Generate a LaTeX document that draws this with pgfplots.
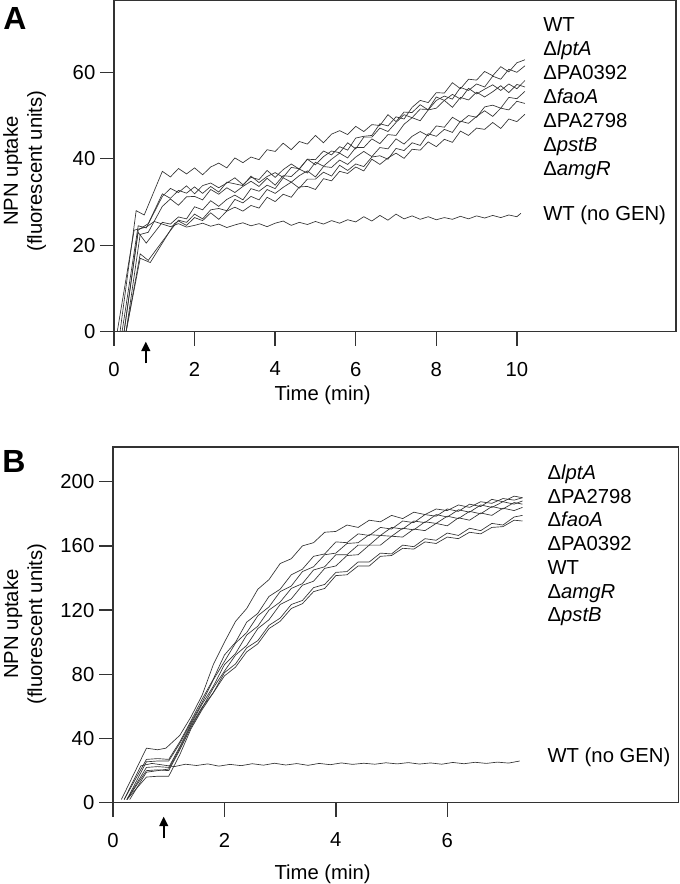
\documentclass[border=0pt]{standalone}
\usepackage{fontspec}
\setmainfont{Liberation Sans}
\usepackage{pgfplots}
\pgfplotsset{compat=1.18}
\usetikzlibrary{arrows.meta}
\definecolor{ln}{HTML}{333333}
\tikzset{curve/.style={line width=0.5pt, color=ln, mark=none}}
\newcommand\lab{\fontsize{15.2}{18}\selectfont}
\pgfplotsset{
 mystyle/.style={
  scale only axis, clip=false,
  axis line style={line width=1pt, color=ln},
  tick style={line width=1pt, color=ln},
  tick align=outside, major tick length=10.5pt,
  tick pos=left,
  ticklabel style={font=\lab, text=black},
  xticklabel style={yshift=-8.6pt},
  /pgf/number format/assume math mode=true,
 }
}
\begin{document}
\begin{tikzpicture}
\path[use as bounding box] (0,0) rectangle (510pt,-663pt);
% ---------------- Panel A ----------------
\begin{axis}[mystyle, at={(85.5pt,-0.4pt)}, anchor=north west,
  width=421.5pt, height=248.4pt,
  xmin=0, xmax=13.95, ymin=0, ymax=76.6,
  xtick={0,2,4,6,8,10}, ytick={0,20,40,60}]
\addplot[curve] coordinates {(0.15,0)(0.55,28)(0.75,27)
(1.2,37.1)(1.4,35.8)(1.6,37.75)(1.8,36.5)(2.0,37.9)(2.2,36.3)(2.4,38.1)(2.6,39.0)(2.8,37.9)(3.0,40.2)
(3.2,39.1)(3.4,40.4)(3.6,39.8)(3.8,42.1)(4.0,41.7)(4.2,43.6)(4.4,42.1)(4.6,44.0)(4.8,43.4)(5.0,45.4)
(5.2,43.7)(5.4,45.7)(5.6,46.5)(5.8,45.6)(6.0,47.5)(6.2,46.3)(6.4,47.9)(6.6,47.7)(6.8,50.2)(7.0,48.6)
(7.2,50.8)(7.4,50.7)(7.6,52.5)(7.8,51.3)(8.0,53.5)(8.2,54.5)(8.4,53.8)(8.6,56.5)(8.8,55.8)(9.0,57.3)
(9.2,56.6)(9.4,59.1)(9.6,58.4)(9.8,60.7)(10.0,60.0)(10.2,61.5)};
\addplot[curve] coordinates {(0.2,0)(0.6,24.5)(0.8,24)
(1.2,31.3)(1.4,33.15)(1.6,32.2)(1.8,33.75)(2.0,31.9)(2.2,33.8)(2.4,34.4)(2.6,33.3)(2.8,34.4)(3.0,35.6)
(3.2,34.0)(3.4,35.7)(3.6,35.2)(3.8,37.3)(4.0,35.7)(4.2,37.5)(4.4,38.8)(4.6,37.6)(4.8,39.9)(5.0,39.8)
(5.2,41.8)(5.4,40.9)(5.6,42.8)(5.8,42.0)(6.0,44.8)(6.2,45.2)(6.4,45.4)(6.6,48.1)(6.8,47.6)(7.0,49.7)
(7.2,49.2)(7.4,51.9)(7.6,53.5)(7.8,53.0)(8.0,55.3)(8.2,55.2)(8.4,57.6)(8.6,56.2)(8.8,58.4)(9.0,58.2)
(9.2,60.2)(9.4,59.2)(9.6,61.3)(9.8,60.1)(10.0,62.2)(10.2,62.9)};
\addplot[curve] coordinates {(0.25,0)(0.6,23.5)(0.85,25)
(1.2,31.9)(1.4,30.85)(1.6,32.7)(1.8,32.05)(2.0,33.5)(2.2,32.0)(2.4,33.6)(2.6,32.3)(2.8,34.6)(3.0,34.2)
(3.2,33.8)(3.4,36.0)(3.6,34.5)(3.8,35.9)(4.0,36.8)(4.2,35.7)(4.4,38.0)(4.6,37.7)(4.8,39.9)(5.0,38.6)
(5.2,40.5)(5.4,41.8)(5.6,41.4)(5.8,43.7)(6.0,42.3)(6.2,45.0)(6.4,45.0)(6.6,47.1)(6.8,46.3)(7.0,48.4)
(7.2,50.2)(7.4,49.5)(7.6,51.5)(7.8,51.4)(8.0,54.3)(8.2,53.5)(8.4,54.9)(8.6,53.8)(8.8,56.3)(9.0,55.0)
(9.2,56.1)(9.4,57.1)(9.6,55.8)(9.8,57.3)(10.0,56.2)(10.2,58.1)};
\addplot[curve] coordinates {(0.3,0)(0.65,22.5)(0.85,23)
(1.2,29.0)(1.4,30.7)(1.6,29.25)(1.8,31.2)(2.0,31.3)(2.2,30.5)(2.4,32.9)(2.6,31.8)(2.8,33.3)(3.0,32.2)
(3.2,33.6)(3.4,34.8)(3.6,33.6)(3.8,35.5)(4.0,33.9)(4.2,36.1)(4.4,35.9)(4.6,37.6)(4.8,36.7)(5.0,39.2)
(5.2,38.3)(5.4,39.9)(5.6,41.3)(5.8,40.2)(6.0,42.6)(6.2,42.6)(6.4,44.6)(6.6,43.5)(6.8,45.6)(7.0,45.4)
(7.2,48.0)(7.4,49.5)(7.6,48.8)(7.8,51.3)(8.0,51.7)(8.2,53.5)(8.4,51.9)(8.6,54.2)(8.8,53.6)(9.0,55.4)
(9.2,54.3)(9.4,55.5)(9.6,56.9)(9.8,55.3)(10.0,57.2)(10.2,56.6)};
\addplot[curve] coordinates {(0.25,0)(0.6,23)(0.8,20.5)
(1.2,25.3)(1.4,24.9)(1.6,26.55)(1.8,26.1)(2.0,28.9)(2.2,28.2)(2.4,30.3)(2.6,29.0)(2.8,30.6)(3.0,31.6)
(3.2,30.5)(3.4,33.1)(3.6,32.5)(3.8,33.9)(4.0,33.1)(4.2,35.6)(4.4,34.6)(4.6,36.1)(4.8,37.2)(5.0,35.8)
(5.2,38.2)(5.4,38.0)(5.6,39.7)(5.8,38.7)(6.0,40.4)(6.2,41.7)(6.4,40.5)(6.6,42.6)(6.8,42.3)(7.0,44.6)
(7.2,43.4)(7.4,45.2)(7.6,46.3)(7.8,45.3)(8.0,47.6)(8.2,47.3)(8.4,49.6)(8.6,48.5)(8.8,50.0)(9.0,49.6)
(9.2,52.0)(9.4,52.4)(9.6,51.7)(9.8,54.2)(10.0,53.9)(10.2,55.6)};
\addplot[curve] coordinates {(0.3,0)(0.65,18)(0.85,16.5)
(1.4,23.4)(1.6,25.8)(1.8,25.3)(2.0,27.2)(2.2,26.1)(2.4,28.2)(2.6,28.5)(2.8,28.0)(3.0,30.6)
(3.2,29.8)(3.4,31.3)(3.6,30.5)(3.8,32.9)(4.0,32.0)(4.2,33.4)(4.4,34.6)(4.6,33.2)(4.8,35.3)(5.0,35.3)
(5.2,36.9)(5.4,36.0)(5.6,38.5)(5.8,37.3)(6.0,38.8)(6.2,38.2)(6.4,40.4)(6.6,40.7)(6.8,39.9)(7.0,42.4)
(7.2,41.9)(7.4,43.7)(7.6,43.1)(7.8,45.8)(8.0,45.2)(8.2,46.8)(8.4,46.1)(8.6,48.7)(8.8,48.2)(9.0,49.8)
(9.2,51.1)(9.4,49.8)(9.6,51.7)(9.8,51.3)(10.0,53.3)(10.2,52.8)};
\addplot[curve] coordinates {(0.3,0)(0.65,17)(0.9,16)(1.5,25)
(1.6,25.6)(1.8,24.6)(2.0,26.4)(2.2,25.7)(2.4,27.5)(2.6,26.0)(2.8,27.9)(3.0,28.8)
(3.2,27.9)(3.4,29.2)(3.6,28.6)(3.8,31.1)(4.0,30.1)(4.2,31.8)(4.4,31.1)(4.6,33.5)(4.8,33.6)(5.0,32.9)
(5.2,35.4)(5.4,34.9)(5.6,37.1)(5.8,36.6)(6.0,38.1)(6.2,37.2)(6.4,39.9)(6.6,38.7)(6.8,40.2)(7.0,41.3)
(7.2,40.1)(7.4,42.2)(7.6,42.0)(7.8,43.9)(8.0,42.8)(8.2,44.5)(8.4,43.8)(8.6,46.4)(8.8,45.4)(9.0,47.1)
(9.2,46.8)(9.4,48.4)(9.6,47.0)(9.8,49.2)(10.0,48.6)(10.2,50.3)};
\addplot[curve] coordinates {(0.08,0)(0.5,23.5)(0.8,24.2)(1.0,25.5)(1.2,24.9)
(1.4,24.3)(1.6,25.0)(1.8,24.2)(2.0,24.6)(2.2,25.1)(2.4,24.4)(2.6,24.9)(2.8,24.1)(3.0,24.7)
(3.2,25.2)(3.4,24.5)(3.6,25.0)(3.8,24.3)(4.0,25.1)(4.2,25.6)(4.4,24.6)(4.6,25.3)(4.8,24.8)(5.0,25.5)
(5.2,24.9)(5.4,25.7)(5.6,25.1)(5.8,25.9)(6.0,25.4)(6.2,26.6)(6.4,25.6)(6.6,26.9)(6.8,25.8)(7.0,27.2)
(7.2,26.1)(7.4,26.8)(7.6,26.0)(7.8,26.6)(8.0,25.9)(8.2,26.4)(8.4,26.0)(8.6,26.7)(8.8,26.1)(9.0,26.8)
(9.2,26.3)(9.4,26.9)(9.6,26.4)(9.8,27.0)(10.0,26.6)(10.1,27.4)};
\draw[line width=1.3pt, -{Triangle[width=6.5pt,length=7pt]}] (axis cs:0.79,-7.3) -- (axis cs:0.79,-2.3);
\end{axis}
% ---------------- Panel B ----------------
\begin{axis}[mystyle, at={(84.75pt,-335.25pt)}, anchor=north west,
  width=424.1pt, height=266.8pt,
  xmin=0, xmax=10.15, ymin=0, ymax=221.6,
  xtick={0,2,4,6}, ytick={0,40,80,120,160,200}]
\addplot[curve] coordinates {(0.15,2)(0.6,34)(0.8,33)(0.95,34)(1.2,42)(1.4,53.5)(1.6,67)(1.8,86)
(2.0,100)(2.2,113)(2.4,121)(2.6,133)(2.8,139)(3.0,149)(3.2,152)(3.4,160)(3.6,162)(3.8,168.5)(4.0,169)
(4.2,173)(4.4,171.5)(4.6,176)(4.8,175)(5.0,179)(5.2,177)(5.4,181)(5.6,179.5)(5.8,183)(6.0,182)
(6.2,185.5)(6.4,184)(6.6,187.5)(6.8,186.5)(7.0,189.5)(7.2,188.5)(7.35,190)};
\addplot[curve] coordinates {(0.2,2)(0.6,27)(0.8,27.5)(1.0,27)(1.2,38)(1.4,51)(1.6,64.5)(1.8,77)
(2.0,92)(2.2,100)(2.4,112.5)(2.6,118)(2.8,128.5)(3.0,133)(3.2,142)(3.4,145.5)(3.6,153.5)(3.8,155)(4.0,162.5)
(4.2,162)(4.4,167.5)(4.6,166.5)(4.8,171.5)(5.0,170.5)(5.2,175.5)(5.4,174.5)(5.6,179.5)(5.8,178.5)(6.0,183)
(6.2,181.5)(6.4,186)(6.6,184.5)(6.8,189)(7.0,187.5)(7.2,191)(7.35,190)};
\addplot[curve] coordinates {(0.25,2)(0.6,25.5)(0.8,26)(1.0,26)(1.2,37)(1.4,50)(1.6,62.5)(1.8,76.5)
(2.0,88)(2.2,99.5)(2.4,106)(2.6,116.5)(2.8,122)(3.0,131.5)(3.2,135)(3.4,144)(3.6,147)(3.8,154.5)(4.0,155.5)
(4.2,161.5)(4.4,162)(4.6,167)(4.8,166.5)(5.0,171.5)(5.2,170.5)(5.4,175.5)(5.6,174.5)(5.8,179.5)(6.0,178)
(6.2,182.5)(6.4,181)(6.6,185.5)(6.8,184)(7.0,187.5)(7.2,186)(7.35,188)};
\addplot[curve] coordinates {(0.25,2)(0.6,22)(0.8,22.5)(1.0,22)(1.2,35)(1.4,49)(1.6,61.5)(1.8,72.5)
(2.0,86)(2.2,93)(2.4,104.5)(2.6,110)(2.8,120)(3.0,125)(3.2,133.5)(3.4,136.5)(3.6,145)(3.8,147)(4.0,154.5)
(4.2,154.5)(4.4,160.5)(4.6,160.5)(4.8,166.5)(5.0,166)(5.2,171)(5.4,170)(5.6,175)(5.8,174)(6.0,178.5)
(6.2,177)(6.4,181.5)(6.6,180)(6.8,184.5)(7.0,183)(7.2,187)(7.35,186)};
\addplot[curve] coordinates {(0.25,2)(0.6,20)(0.8,20.5)(1.0,20)(1.2,33)(1.4,47)(1.6,59)(1.8,71.5)
(2.0,82)(2.2,92)(2.4,98)(2.6,108.5)(2.8,114)(3.0,123.5)(3.2,127)(3.4,135.5)(3.6,138)(3.8,146)(4.0,147.5)
(4.2,154)(4.4,154.5)(4.6,160.5)(4.8,160.5)(5.0,166)(5.2,165.5)(5.4,170.5)(5.6,169.5)(5.8,174)(6.0,172.5)
(6.2,177.5)(6.4,176)(6.6,180.5)(6.8,179)(7.0,183.5)(7.2,182)(7.35,184)};
\addplot[curve] coordinates {(0.25,2)(0.6,16)(0.8,16.5)(1.0,16.5)(1.2,30)(1.4,46)(1.6,58)(1.8,68.5)
(2.0,81)(2.2,86.5)(2.4,96.5)(2.6,101)(2.8,110.5)(3.0,115)(3.2,123.5)(3.4,126)(3.6,134)(3.8,136)(4.0,143.5)
(4.2,144)(4.4,150)(4.6,150)(4.8,155.5)(5.0,155)(5.2,160.5)(5.4,159.5)(5.6,164.5)(5.8,163.5)(6.0,168)
(6.2,166.5)(6.4,171)(6.6,169.5)(6.8,174)(7.0,173)(7.2,178)(7.35,179)};
\addplot[curve] coordinates {(0.3,2)(0.6,19)(0.8,20)(1.0,21)(1.2,34)(1.4,48)(1.6,59.5)(1.8,68.5)
(2.0,79)(2.2,84.5)(2.4,94)(2.6,99)(2.8,108.5)(3.0,113)(3.2,121)(3.4,124)(3.6,131.5)(3.8,133.5)(4.0,141.5)
(4.2,142)(4.4,147.5)(4.6,147.5)(4.8,153.5)(5.0,154)(5.2,158.5)(5.4,158)(5.6,162.5)(5.8,161.5)(6.0,165.5)
(6.2,164.5)(6.4,168.5)(6.6,167.5)(6.8,171.5)(7.0,172)(7.2,176)(7.35,175.5)};
\addplot[curve] coordinates {(0.2,2)(0.5,23)(0.7,24.5)(0.9,23.5)(1.1,22.5)(1.3,24)(1.5,23.2)(1.7,24.2)
(1.9,22.8)(2.1,23.9)(2.3,23.1)(2.5,24.3)(2.7,23.4)(2.9,24.6)(3.1,23.5)(3.3,24.4)(3.5,23.3)(3.7,24.5)
(3.9,23.7)(4.1,24.8)(4.3,23.9)(4.5,24.6)(4.7,24.0)(4.9,24.9)(5.1,24.2)(5.3,25.0)(5.5,24.1)(5.7,24.8)
(5.9,24.0)(6.1,25.1)(6.3,24.3)(6.5,25.2)(6.7,24.5)(6.9,25.3)(7.1,24.7)(7.3,26.0)};
\draw[line width=1.3pt, -{Triangle[width=6.5pt,length=7pt]}] (axis cs:0.91,-22.2) -- (axis cs:0.91,-8.7);
\end{axis}
% ---------------- Text ----------------
\node[font=\fontsize{24}{27}\selectfont\bfseries] at (11.25pt,-13.5pt) {A};
\node[font=\fontsize{24}{27}\selectfont\bfseries] at (10.5pt,-345.75pt) {B};
\node[rotate=90, align=center, font=\lab] at (18.4pt,-128.25pt) {NPN uptake\\(fluorescent units)};
\node[rotate=90, align=center, font=\lab] at (18.75pt,-468pt) {NPN uptake\\(fluorescent units)};
\node[anchor=base, font=\lab, inner sep=0pt] at (241.9pt,-300pt) {Time (min)};
\node[anchor=base, font=\lab, inner sep=0pt] at (241.9pt,-659.5pt) {Time (min)};
% legend-like labels A
\begin{scope}[every node/.style={anchor=base west, font=\lab, inner sep=0pt}]
\node at (407.25pt,-23.8pt) {WT};
\node at (407.25pt,-41.8pt) {Δ\textit{lptA}};
\node at (407.25pt,-59.8pt) {ΔPA0392};
\node at (407.25pt,-77.8pt) {Δ\textit{faoA}};
\node at (407.25pt,-95.8pt) {ΔPA2798};
\node at (407.25pt,-113.8pt) {Δ\textit{pstB}};
\node at (407.25pt,-131.8pt) {Δ\textit{amgR}};
\node at (407.25pt,-165.6pt) {WT (no GEN)};
% B
\node at (410.5pt,-359.9pt) {Δ\textit{lptA}};
\node at (410.5pt,-377.6pt) {ΔPA2798};
\node at (410.5pt,-395.1pt) {Δ\textit{faoA}};
\node at (410.5pt,-413.1pt) {ΔPA0392};
\node at (410.5pt,-430.6pt) {WT};
\node at (410.5pt,-448.6pt) {Δ\textit{amgR}};
\node at (410.5pt,-466.1pt) {Δ\textit{pstB}};
\node at (410.5pt,-571.9pt) {WT (no GEN)};
\end{scope}
\end{tikzpicture}
\end{document}
